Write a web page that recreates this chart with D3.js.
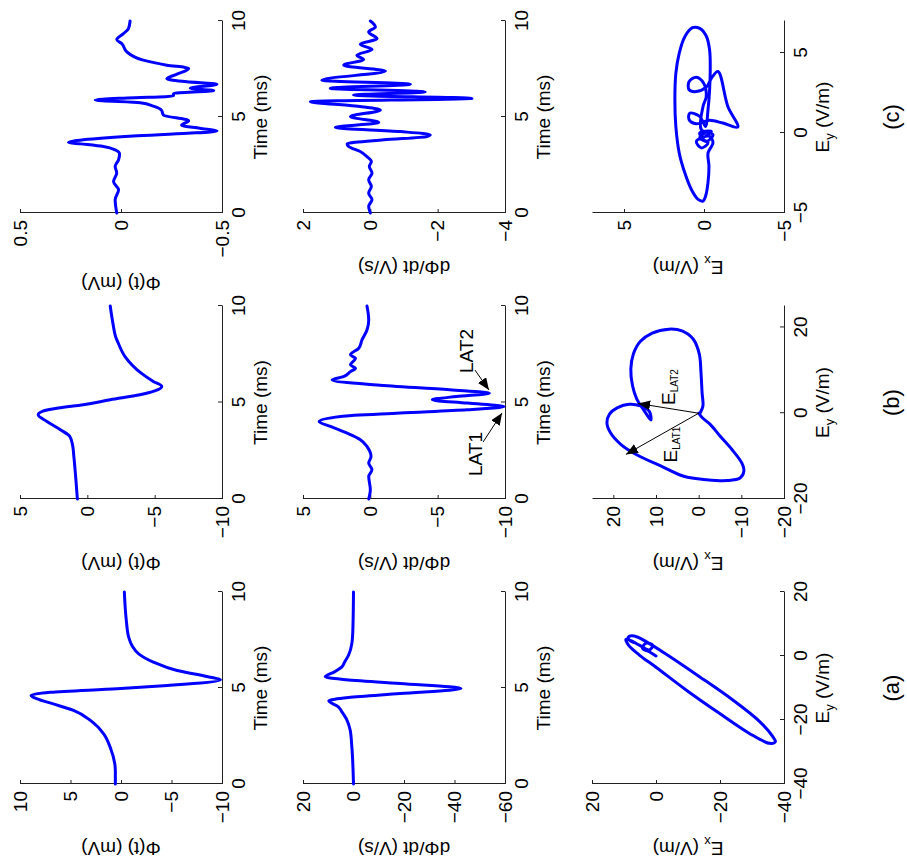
<!DOCTYPE html>
<html>
<head>
<meta charset="utf-8">
<script src="https://cdn.jsdelivr.net/npm/d3@7"></script>
<style>
  html, body { margin: 0; padding: 0; background: #fff; }
  svg { display: block; }
  text { font-family: "Liberation Sans", Arial, Helvetica, sans-serif; fill: #000; }
</style>
</head>
<body>
<svg id="fig" width="907" height="866"></svg>
<script>
// ---------------- data ----------------
const timeTicks = [0, 5, 10];

// (a) potential, derivative, field loop
const tPhiA = [0, 0.7, 1.9, 2.6, 3.3, 3.83, 4.17, 4.43, 4.61, 4.78, 4.96, 5.13, 5.43, 5.6, 5.91, 6.35, 6.78, 7.2, 7.65, 8.5, 10];
const phiA  = [0.56, 0.56, 1.06, 1.7, 3.0, 4.7, 6.7, 8.3, 8.9, 7.0, 0.4, -4.6, -9.85, -8.5, -5.55, -3.2, -1.75, -1.1, -0.76, -0.53, -0.33];
const tDPhiA = [0, 1.94, 2.8, 3.33, 3.76, 4.02, 4.33, 4.5, 4.71, 4.97, 5.23, 5.44, 5.58, 5.84, 6.1, 6.36, 6.7, 7.31, 8.0, 10];
const dPhiA  = [0, 0.66, 1.3, 2.6, 4.6, 6.0, 9.8, 2.0, -18.5, -42.6, -18.5, 4, 11.2, 7.5, 4.6, 3.5, 2, 0.66, 0.26, 0];
const eyA = [0, 1.35, 2.4, 4.0, 3.4, 1.9, 3.4, 4.8, 5.2, 3.4, 0.3, -3.5, -10.6, -17.9, -24.2, -27.3, -26.8, -25.2, -20.5, -13.75, -6.46, 0.63, 4.5, 6.25, 6.0, 5.0, 4.0];
const exA = [0, 2.1, 4.2, 3.1, 1.0, 2.1, 5.2, 7.8, 9.4, 8.6, 5.2, 0, -9.4, -19.8, -29.2, -35.5, -37.3, -36.5, -32.4, -24.0, -13.6, -3.1, 3.1, 6.8, 8.6, 8.35, 6.3];

// (b)
const tPhiB = [0, 1.0, 2.2, 2.8, 3.24, 3.59, 4.02, 4.36, 4.55, 4.71, 4.88, 5.14, 5.4, 5.6, 5.83, 6.09, 6.52, 7.38, 8.07, 8.41, 9.1, 10];
const phiB  = [0.74, 0.85, 1.0, 1.1, 1.3, 2.0, 3.0, 3.65, 3.3, 2.16, 0.3, -1.7, -3.9, -5.0, -5.53, -4.9, -4.0, -2.8, -2.3, -2.1, -1.9, -1.7];
const tDPhiB = [0, 0.48, 1.17, 1.52, 1.86, 2.2, 2.72, 3.07, 3.41, 3.76, 4.02, 4.28, 4.45, 4.62, 4.79, 4.97, 5.14, 5.31, 5.48, 5.66, 5.91, 6.17, 6.34, 6.6, 6.78, 6.95, 7.29, 7.47, 7.81, 8.24, 8.76, 9.28, 10];
const dPhiB  = [0.12, 0, 0.12, -0.12, 0.12, -0.05, 0.25, 0.74, 1.73, 2.96, 3.8, 2.2, -2.2, -7.2, -9.93, -7.2, -4.6, -6.4, -8.84, -5.9, -0.5, 2.84, 2.0, 1.48, 1.1, 1.48, 1.1, 1.48, 0.86, 0.62, 0.25, 0.12, 0.25];
const eyB = [0, -1.0, -2.6, -5.3, -8.4, -11.6, -13.5, -15.1, -15.7, -15.5, -14.7, -12.3, -9.8, -7.3, -4.5, -2.2, -0.2, 1.3, 2.1, 1.7, 0.5, -1.6, 0.8, 3.3, 6.4, 10.3, 13.8, 16.7, 18.7, 19.6, 19.2, 17.3, 13.8, 9.5, 4.8, 1.7, 0.15];
const exB = [0, -0.8, -2.7, -5.0, -7.75, -10.1, -10.6, -9.7, -6.6, -1.9, 3.5, 8.9, 14.3, 18.2, 20.7, 21.5, 20.9, 19.0, 16.3, 13.6, 11.6, 11.2, 12.9, 14.5, 15.5, 15.9, 15.3, 13.7, 10.9, 7.0, 3.9, 1.3, -0.15, -0.54, -0.8, -1.0, -0.4];

// (c)
const tPhiC = [0, 0.69, 1.21, 1.64, 2.08, 2.42, 2.77, 3.08, 3.29, 3.46, 3.6, 3.67, 3.81, 4.01, 4.15, 4.27, 4.41, 4.57, 4.81, 5.1, 5.36, 5.57, 5.74, 5.88, 5.99, 6.09, 6.23, 6.37, 6.5, 6.71, 6.83, 6.99, 7.23, 7.53, 7.7, 7.96, 8.39, 8.82, 9.03, 9.34, 9.6, 10];
const phiC  = [0.021, 0.029, 0.012, 0.037, 0.021, 0.029, 0.012, 0.007, 0.029, 0.087, 0.2, 0.26, 0.186, -0.06, -0.33, -0.475, -0.39, -0.3, -0.335, -0.21, -0.2, -0.16, -0.095, 0.128, -0.03, -0.26, -0.26, -0.459, -0.343, -0.475, -0.326, -0.227, -0.277, -0.335, -0.227, -0.11, -0.029, -0.004, 0.021, -0.012, -0.037, -0.045];
const tDPhiC = [0, 0.35, 0.69, 1.04, 1.38, 1.73, 2.08, 2.42, 2.68, 2.94, 3.2, 3.46, 3.6, 3.81, 3.98, 4.07, 4.24, 4.45, 4.71, 5.02, 5.36, 5.57, 5.8, 5.97, 6.14, 6.31, 6.49, 6.71, 6.92, 7.39, 7.7, 7.99, 8.22, 8.51, 8.79, 9.08, 9.43, 9.69, 10];
const dPhiC  = [0, 0.05, -0.05, 0.05, -0.03, 0.05, -0.05, 0.03, -0.03, 0.1, 0.3, 0.64, 0.69, -0.4, -1.68, -1.78, -0.89, 1.04, -0.25, 0.59, -0.3, 0.45, 1.78, -3.02, 0.5, -1.63, 1.19, -1.19, 1.44, -0.45, 0.79, 0.2, 0.4, -0.05, 0.3, -0.2, 0.05, -0.15, 0];
const eyC = [0, -0.31, -0.62, -0.93, -0.52, -0.21, -0.62, -1.24, -2.07, -3.1, -3.94, -4.25, -4.15, -3.53, -2.49, -1.24, 0.41, 2.07, 3.73, 4.98, 6.02, 6.58, 6.54, 6.06, 5.19, 3.94, 2.7, 1.45, 0.41,
             1.04, 1.24, 0.83, 0.58, 0.79, 0.62, 0.37, 1.66, 3.84, 3.42, 2.86, 2.59, 2.7, 3.22, 3.49, 3.11, 2.28, 1.66, 0.21, -0.1, -0.52, 0, 0.1, -0.2];
const exC = [-0.04, 0.27, -0.25, 0.17, 0.48, -0.35, -0.56, -0.25, -0.31, -0.25, -0.1, 0.06, 0.37, 0.79, 1.2, 1.55, 1.76, 1.82, 1.76, 1.55, 1.2, 0.72, 0.27, -0.14, -0.35, -0.39, -0.35, -0.25, -0.1,
             0.27, 0.89, 0.93, 0.48, -0.35, -1.18, -2.11, -1.49, -0.87, -0.46, -0.14, 0.48, 0.93, 0.93, 0.48, 0.02, -0.14, 0.06, 0.17, -0.56, -0.14, 0.27, -0.46, -0.1];

// activation-time annotations on (b): [time, value] of label, arrow tail, arrow tip
const latLabels = ["LAT1", "LAT2"];
const latText = [[2.33, -8.29], [7.67, -7.62]];
const latTail = [[2.95, -8.37], [6.68, -7.77]];
const latTip  = [[4.46, -9.78], [5.65, -8.81]];
// field vectors at those times: [Ey, Ex] tips, drawn from the origin
const eLatSubs = ["LAT1", "LAT2"];
const eLatTip  = [[-9.6, 17.05], [2.27, 14.2]];
const eLatText = [[-7.3, 5.0], [6.1, 5.5]];

// ---------------- layout (figure drawn upright, then turned a quarter turn) ----------------
const FONT = 19;
const colX = { a: [82, 274], b: [367, 560], c: [653, 845] };
const rowY = { phi: [20, 222], dphi: [303, 505], loop: [592, 784] };
const fmt = d3.format("~g");

const svg = d3.select("#fig");
const defs = svg.append("defs");
defs.append("marker")
  .attr("id", "head").attr("markerUnits", "userSpaceOnUse")
  .attr("viewBox", "0 0 12 10").attr("refX", 12).attr("refY", 5)
  .attr("markerWidth", 12).attr("markerHeight", 10).attr("orient", "auto")
  .append("path").attr("d", "M0,0 L12,5 L0,10 Z").attr("fill", "#000");

const fig = svg.append("g").attr("transform", "translate(0,866) rotate(-90)");

function styleAxis(sel) {
  sel.attr("font-size", FONT).attr("font-family", '"Liberation Sans", Arial, sans-serif');
  sel.select(".domain").attr("stroke", "#222").attr("stroke-width", 1);
  sel.selectAll(".tick line").attr("stroke", "#222").attr("stroke-width", 1);
  sel.selectAll(".tick text").attr("fill", "#000");
}

function addLabel(g, x, y, parts, rotate, anchor) {
  const t = g.append("text").attr("x", x).attr("y", y)
    .attr("font-size", FONT).attr("text-anchor", anchor || "middle");
  if (rotate) t.attr("transform", `rotate(${rotate},${x},${y})`);
  parts.forEach(p => {
    const s = t.append("tspan").text(p.text);
    if (p.sub) s.attr("font-size", p.size || 12).attr("dy", p.dy || 5);
    if (p.back) s.attr("dy", -(p.back));
  });
  return t;
}

function panel(col, row, xDom, yDom, xTicks, yTicks, xLab, yLab) {
  const [xa, xb] = colX[col], [ya, yb] = rowY[row];
  const x = d3.scaleLinear().domain(xDom).range([xa, xb]);
  const y = d3.scaleLinear().domain(yDom).range([yb, ya]);
  const g = fig.append("g");
  const gx = g.append("g").attr("transform", `translate(0,${yb})`)
    .call(d3.axisBottom(x).tickValues(xTicks).tickFormat(fmt).tickSizeInner(-4).tickSizeOuter(0).tickPadding(0));
  styleAxis(gx);
  gx.selectAll(".tick text").attr("y", 23).attr("dy", null);
  const gy = g.append("g").attr("transform", `translate(${xa},0)`)
    .call(d3.axisLeft(y).tickValues(yTicks).tickFormat(fmt).tickSizeInner(-4).tickSizeOuter(0).tickPadding(7));
  styleAxis(gy);
  let w = 0;
  gy.selectAll(".tick text").each(function () { w = Math.max(w, this.getBBox().width); });
  addLabel(g, (xa + xb) / 2, yb + 45, xLab);
  addLabel(g, xa - (w + 26), (ya + yb) / 2, yLab, -90);
  return { g, x, y };
}

const timeLab = [{ text: "Time (ms)" }];
const phiLab = [{ text: "\u03A6(t) (mV)" }];
const dphiLab = [{ text: "d\u03A6/dt (V/s)" }];
const eyLab = [{ text: "E" }, { text: "y", sub: true, size: 13, dy: 5 }, { text: " (V/m)", back: 5 }];
const exLab = [{ text: "E" }, { text: "x", sub: true, size: 13, dy: 5 }, { text: " (V/m)", back: 5 }];

const timeLine = (p) => d3.line().x(d => p.x(d[0])).y(d => p.y(d[1])).curve(d3.curveMonotoneX);
const loopLine = (p) => d3.line().x(d => p.x(d[0])).y(d => p.y(d[1])).curve(d3.curveCatmullRom.alpha(0.5));

function drawSeries(p, xs, ys, gen) {
  p.g.append("path").datum(d3.zip(xs, ys))
    .attr("d", gen(p)).attr("fill", "none")
    .attr("stroke", "#0000ff").attr("stroke-width", 3)
    .attr("stroke-linejoin", "round").attr("stroke-linecap", "round");
}

// potentials
const pA1 = panel("a", "phi", [0, 10], [-10, 10], timeTicks, [-10, -5, 0, 5, 10], timeLab, phiLab);
drawSeries(pA1, tPhiA, phiA, timeLine);
const pB1 = panel("b", "phi", [0, 10], [-10, 5], timeTicks, [-10, -5, 0, 5], timeLab, phiLab);
drawSeries(pB1, tPhiB, phiB, timeLine);
const pC1 = panel("c", "phi", [0, 10], [-0.5, 0.5], timeTicks, [-0.5, 0, 0.5], timeLab, phiLab);
drawSeries(pC1, tPhiC, phiC, timeLine);

// derivatives
const pA2 = panel("a", "dphi", [0, 10], [-60, 20], timeTicks, [-60, -40, -20, 0, 20], timeLab, dphiLab);
drawSeries(pA2, tDPhiA, dPhiA, timeLine);
const pB2 = panel("b", "dphi", [0, 10], [-10, 5], timeTicks, [-10, -5, 0, 5], timeLab, dphiLab);
drawSeries(pB2, tDPhiB, dPhiB, timeLine);
const pC2 = panel("c", "dphi", [0, 10], [-4, 2], timeTicks, [-4, -2, 0, 2], timeLab, dphiLab);
drawSeries(pC2, tDPhiC, dPhiC, timeLine);

// field loops
const pA3 = panel("a", "loop", [-40, 20], [-40, 20], [-40, -20, 0, 20], [-40, -20, 0, 20], eyLab, exLab);
drawSeries(pA3, eyA, exA, loopLine);
const pB3 = panel("b", "loop", [-20, 25], [-20, 25], [-20, 0, 20], [-20, -10, 0, 10, 20], eyLab, exLab);
drawSeries(pB3, eyB, exB, loopLine);
const pC3 = panel("c", "loop", [-5, 7], [-5, 7], [-5, 0, 5], [-5, 0, 5], eyLab, exLab);
drawSeries(pC3, eyC, exC, loopLine);

// LAT annotations on the derivative of (b)
latLabels.forEach((name, i) => {
  pB2.g.append("line")
    .attr("x1", pB2.x(latTail[i][0])).attr("y1", pB2.y(latTail[i][1]))
    .attr("x2", pB2.x(latTip[i][0])).attr("y2", pB2.y(latTip[i][1]))
    .attr("stroke", "#000").attr("stroke-width", 1).attr("marker-end", "url(#head)");
  addLabel(pB2.g, pB2.x(latText[i][0]), pB2.y(latText[i][1]), [{ text: name }]);
});

// field vectors at LAT1 / LAT2 on the loop of (b)
eLatSubs.forEach((sub, i) => {
  pB3.g.append("line")
    .attr("x1", pB3.x(0)).attr("y1", pB3.y(0))
    .attr("x2", pB3.x(eLatTip[i][0])).attr("y2", pB3.y(eLatTip[i][1]))
    .attr("stroke", "#000").attr("stroke-width", 1).attr("marker-end", "url(#head)");
  addLabel(pB3.g, pB3.x(eLatText[i][0]), pB3.y(eLatText[i][1]),
    [{ text: "E" }, { text: sub, sub: true, size: 10, dy: 3 }]);
});

// column captions
[["a", "(a)"], ["b", "(b)"], ["c", "(c)"]].forEach(([k, s]) => {
  fig.append("text").attr("x", (colX[k][0] + colX[k][1]) / 2).attr("y", 899)
    .attr("text-anchor", "middle").attr("font-size", 22).text(s);
});
</script>
</body>
</html>
